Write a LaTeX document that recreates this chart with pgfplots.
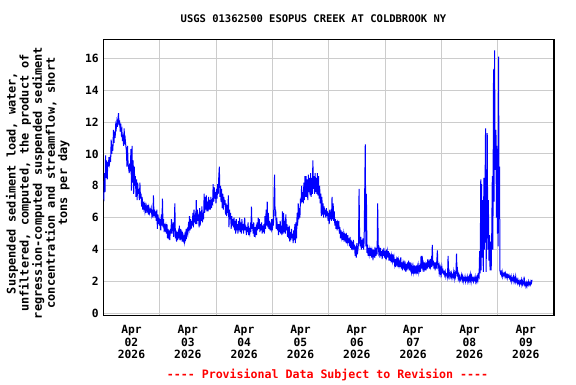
\documentclass[border=0pt]{standalone}
\usepackage{fontspec}
\setmonofont{DejaVu Sans Mono}
\usepackage{pgfplots}
\pgfplotsset{compat=1.18}
\usepackage{pgfplotstable}
\pgfplotstableread{
d v
0.000 7.3
0.010 7.2
0.020 8.8
0.030 7.6
0.040 9.9
0.050 8.5
0.060 9.6
0.070 8.4
0.080 9.5
0.090 9.2
0.100 9.8
0.110 9.4
0.120 9.7
0.130 9.5
0.140 10.9
0.150 10.0
0.160 10.6
0.170 10.2
0.180 11.5
0.190 10.7
0.200 11.4
0.210 11.0
0.220 11.8
0.230 11.6
0.240 12.0
0.250 11.7
0.260 12.2
0.270 12.55
0.280 11.8
0.290 12.1
0.300 11.4
0.310 11.9
0.320 11.3
0.330 11.5
0.340 10.8
0.350 11.2
0.360 10.5
0.370 11.6
0.380 10.6
0.390 10.9
0.400 10.5
0.410 10.2
0.420 9.2
0.430 10.5
0.440 9.4
0.450 9.1
0.460 8.8
0.470 9.4
0.480 8.9
0.490 10.3
0.500 7.7
0.510 10.5
0.520 8.2
0.530 9.6
0.540 7.5
0.550 9.2
0.560 8.0
0.570 8.6
0.580 7.3
0.590 8.4
0.600 7.1
0.610 8.2
0.620 7.5
0.630 7.8
0.640 7.1
0.650 8.2
0.660 7.2
0.670 7.5
0.680 6.7
0.690 7.3
0.700 6.5
0.710 7.0
0.720 6.6
0.730 6.8
0.740 6.4
0.750 6.7
0.760 6.3
0.770 6.7
0.780 6.5
0.790 6.8
0.800 6.2
0.810 6.6
0.820 6.3
0.830 6.5
0.840 6.4
0.850 6.6
0.860 6.2
0.870 6.5
0.880 6.0
0.890 7.4
0.900 6.1
0.910 6.5
0.920 6.0
0.930 6.4
0.940 5.8
0.950 6.5
0.960 5.3
0.970 6.2
0.980 5.6
0.990 6.0
1.000 5.5
1.010 5.9
1.020 5.2
1.030 6.2
1.040 5.5
1.050 7.2
1.060 5.4
1.070 5.9
1.080 5.1
1.090 5.6
1.100 5.3
1.110 5.5
1.120 5.0
1.130 5.6
1.140 4.7
1.150 5.3
1.160 4.9
1.170 5.2
1.180 4.6
1.190 5.3
1.200 5.0
1.210 5.9
1.220 5.0
1.230 5.4
1.240 5.7
1.250 4.8
1.260 5.5
1.270 6.9
1.280 4.7
1.290 5.2
1.300 4.5
1.310 5.1
1.320 4.6
1.330 5.0
1.340 4.7
1.350 5.5
1.360 4.6
1.370 5.3
1.380 4.8
1.390 5.0
1.400 4.5
1.410 4.9
1.420 4.6
1.430 4.8
1.440 4.5
1.450 4.9
1.460 4.7
1.470 5.3
1.480 4.9
1.490 5.2
1.500 5.0
1.510 5.5
1.520 5.3
1.530 6.1
1.540 5.2
1.550 5.9
1.560 5.3
1.570 5.8
1.580 5.5
1.590 6.3
1.600 5.4
1.610 6.5
1.620 5.7
1.630 6.0
1.640 5.6
1.650 7.1
1.660 5.6
1.670 6.5
1.680 5.8
1.690 6.2
1.700 5.4
1.710 6.6
1.720 5.5
1.730 6.4
1.740 5.8
1.750 6.7
1.760 5.7
1.770 6.3
1.780 5.9
1.790 7.5
1.800 6.3
1.810 7.3
1.820 6.5
1.830 7.4
1.840 6.4
1.850 7.0
1.860 6.4
1.870 7.3
1.880 6.5
1.890 7.1
1.900 6.5
1.910 7.3
1.920 6.6
1.930 7.0
1.940 6.9
1.950 8.1
1.960 7.0
1.970 7.9
1.980 7.2
1.990 7.6
2.000 6.9
2.010 7.8
2.020 7.2
2.030 8.1
2.040 7.5
2.050 8.6
2.060 9.2
2.070 7.3
2.080 8.0
2.090 7.0
2.100 7.8
2.110 6.6
2.120 7.5
2.130 6.5
2.140 7.3
2.150 6.8
2.160 7.1
2.170 6.2
2.180 6.9
2.190 6.1
2.200 6.8
2.210 6.3
2.220 7.4
2.230 5.4
2.240 6.5
2.250 5.9
2.260 6.3
2.270 5.3
2.280 6.1
2.290 5.5
2.300 5.9
2.310 5.4
2.320 6.0
2.330 5.2
2.340 5.8
2.350 5.0
2.360 5.9
2.370 5.2
2.380 5.6
2.390 5.0
2.400 5.8
2.410 5.2
2.420 6.0
2.430 5.1
2.440 5.7
2.450 5.0
2.460 5.9
2.470 5.2
2.480 5.6
2.490 5.0
2.500 5.6
2.510 6.0
2.520 5.2
2.530 5.5
2.540 4.9
2.550 5.4
2.560 5.1
2.570 5.7
2.580 4.9
2.590 5.2
2.600 5.0
2.610 5.4
2.620 5.1
2.630 6.7
2.640 5.3
2.650 5.6
2.660 5.0
2.670 5.7
2.680 4.8
2.690 5.4
2.700 5.0
2.710 5.3
2.720 4.9
2.730 5.7
2.740 5.2
2.750 6.0
2.760 5.3
2.770 5.9
2.780 5.1
2.790 5.6
2.800 5.2
2.810 5.7
2.820 5.0
2.830 5.5
2.840 5.1
2.850 5.6
2.860 5.0
2.870 6.1
2.880 5.3
2.890 6.5
2.900 5.5
2.910 7.0
2.920 5.4
2.930 6.3
2.940 5.3
2.950 5.8
2.960 5.2
2.970 5.5
2.980 5.3
2.990 5.9
3.000 5.2
3.010 5.7
3.020 5.5
3.030 7.3
3.040 8.7
3.050 6.1
3.060 6.5
3.070 5.3
3.080 6.0
3.090 5.2
3.100 5.6
3.110 4.9
3.120 5.6
3.130 5.1
3.140 5.8
3.150 5.0
3.160 5.5
3.170 4.9
3.180 6.4
3.190 5.0
3.200 6.3
3.210 5.1
3.220 5.8
3.230 5.0
3.240 6.2
3.250 5.2
3.260 5.6
3.270 4.8
3.280 5.4
3.290 4.7
3.300 5.5
3.310 4.5
3.320 5.1
3.330 4.6
3.340 5.3
3.350 4.7
3.360 5.0
3.370 4.4
3.380 5.2
3.390 4.6
3.400 5.6
3.410 4.4
3.420 5.7
3.430 4.7
3.440 6.3
3.450 5.5
3.460 6.9
3.470 5.9
3.480 6.6
3.490 6.0
3.500 7.2
3.510 6.9
3.520 8.0
3.530 7.0
3.540 7.6
3.550 6.9
3.560 8.2
3.570 7.1
3.580 8.6
3.590 7.3
3.600 8.6
3.610 7.3
3.620 8.4
3.630 7.1
3.640 8.7
3.650 7.6
3.660 8.5
3.670 7.4
3.680 8.8
3.690 7.3
3.700 8.5
3.710 7.5
3.720 9.6
3.730 7.8
3.740 8.6
3.750 7.5
3.760 8.8
3.770 7.6
3.780 8.5
3.790 7.5
3.800 8.8
3.810 7.4
3.820 8.6
3.830 7.2
3.840 8.0
3.850 6.9
3.860 7.5
3.870 6.1
3.880 7.3
3.890 6.2
3.900 6.9
3.910 6.0
3.920 6.7
3.930 6.2
3.940 6.5
3.950 6.0
3.960 6.6
3.970 6.1
3.980 6.4
3.990 5.8
4.000 6.3
4.010 5.6
4.020 6.5
4.030 5.9
4.040 6.2
4.050 5.8
4.060 7.3
4.070 5.9
4.080 6.9
4.090 5.8
4.100 6.4
4.110 5.5
4.120 5.9
4.130 5.3
4.140 5.8
4.150 5.2
4.160 5.6
4.170 5.3
4.180 5.8
4.190 5.0
4.200 5.4
4.210 4.7
4.220 5.2
4.230 4.8
4.240 5.1
4.250 4.6
4.260 5.0
4.270 4.7
4.280 4.9
4.290 4.5
4.300 5.0
4.310 4.4
4.320 4.8
4.330 4.5
4.340 4.9
4.350 4.4
4.360 4.7
4.370 4.2
4.380 4.8
4.390 4.1
4.400 4.6
4.410 4.0
4.420 4.5
4.430 4.2
4.440 4.6
4.450 4.0
4.460 4.3
4.470 3.6
4.480 4.2
4.490 3.5
4.500 4.4
4.510 3.7
4.520 4.0
4.530 4.4
4.540 7.8
4.550 4.6
4.560 4.2
4.570 4.8
4.580 4.0
4.590 4.6
4.600 4.1
4.610 4.7
4.620 4.0
4.630 4.5
4.640 7.6
4.650 10.6
4.660 4.2
4.670 7.5
4.680 3.8
4.690 4.3
4.700 3.6
4.710 4.1
4.720 3.7
4.730 4.0
4.740 3.6
4.750 4.1
4.760 3.5
4.770 3.9
4.780 3.6
4.790 4.0
4.800 3.6
4.810 3.9
4.820 3.5
4.830 3.9
4.840 3.6
4.850 4.1
4.860 3.7
4.870 6.9
4.880 4.3
4.890 3.8
4.900 4.0
4.910 3.5
4.920 4.1
4.930 3.6
4.940 3.9
4.950 3.4
4.960 4.0
4.970 3.6
4.980 4.1
4.990 3.5
5.000 3.9
5.010 3.4
5.020 4.0
5.030 3.6
5.040 3.9
5.050 3.5
5.060 3.9
5.070 3.3
5.080 3.8
5.090 3.3
5.100 3.7
5.110 3.2
5.120 3.6
5.130 3.3
5.140 3.7
5.150 3.2
5.160 3.5
5.170 3.1
5.180 3.4
5.190 2.9
5.200 3.3
5.210 3.0
5.220 3.5
5.230 2.9
5.240 3.3
5.250 3.0
5.260 3.2
5.270 2.9
5.280 3.5
5.290 2.8
5.300 3.2
5.310 2.7
5.320 3.1
5.330 2.8
5.340 3.3
5.350 2.7
5.360 3.0
5.370 2.6
5.380 3.1
5.390 2.7
5.400 3.2
5.410 2.8
5.420 3.3
5.430 2.7
5.440 3.2
5.450 2.8
5.460 3.0
5.470 2.6
5.480 2.9
5.490 2.5
5.500 2.9
5.510 2.6
5.520 3.0
5.530 2.5
5.540 2.8
5.550 2.6
5.560 3.0
5.570 2.5
5.580 2.9
5.590 2.6
5.600 3.0
5.610 2.7
5.620 2.9
5.630 2.6
5.640 3.6
5.650 2.8
5.660 3.6
5.670 2.9
5.680 3.1
5.690 2.6
5.700 3.2
5.710 2.7
5.720 3.0
5.730 2.7
5.740 3.2
5.750 2.8
5.760 3.4
5.770 2.9
5.780 3.3
5.790 2.8
5.800 3.4
5.810 3.0
5.820 3.3
5.830 2.9
5.840 4.3
5.850 3.0
5.860 3.3
5.870 2.8
5.880 3.2
5.890 2.7
5.900 3.2
5.910 2.8
5.920 3.3
5.930 3.95
5.940 2.9
5.950 3.0
5.960 2.6
5.970 2.9
5.980 2.5
5.990 2.8
6.000 2.5
6.010 2.9
6.020 2.6
6.030 2.7
6.040 2.5
6.050 2.6
6.060 2.4
6.070 2.6
6.080 2.3
6.090 2.5
6.100 2.5
6.110 2.3
6.120 3.6
6.130 2.4
6.140 2.6
6.150 2.3
6.160 2.5
6.170 2.3
6.180 2.5
6.190 2.2
6.200 2.4
6.210 2.3
6.220 2.6
6.230 2.2
6.240 2.5
6.250 2.3
6.260 2.6
6.270 3.75
6.280 2.3
6.290 2.6
6.300 2.2
6.310 2.4
6.320 2.1
6.330 2.3
6.340 2.1
6.350 2.2
6.360 2.4
6.370 2.1
6.380 2.3
6.390 2.0
6.400 2.2
6.410 2.1
6.420 2.3
6.430 2.0
6.440 2.2
6.450 2.1
6.460 2.3
6.470 2.0
6.480 2.2
6.490 2.0
6.500 2.3
6.510 2.1
6.520 2.4
6.530 2.0
6.540 2.3
6.550 2.1
6.560 2.2
6.570 2.0
6.580 2.2
6.590 2.1
6.600 2.3
6.610 2.0
6.620 2.2
6.630 2.0
6.640 2.3
6.650 2.1
6.660 2.4
6.670 2.3
6.680 3.9
6.690 2.5
6.700 8.4
6.705 2.7
6.715 8.1
6.725 3.5
6.735 7.1
6.745 2.6
6.755 8.5
6.765 4.0
6.775 7.3
6.785 11.6
6.795 2.6
6.805 6.0
6.815 11.3
6.825 4.0
6.835 7.1
6.845 3.3
6.855 4.9
6.865 2.7
6.875 4.5
6.885 2.7
6.895 5.0
6.905 8.6
6.915 4.0
6.927 15.3
6.935 7.0
6.945 16.5
6.955 9.0
6.970 11.5
6.978 6.0
6.988 10.5
6.995 5.0
7.005 8.6
7.010 4.2
7.016 16.1
7.025 6.0
7.034 9.2
7.040 2.7
7.050 2.5
7.060 2.6
7.070 2.4
7.080 2.6
7.090 2.3
7.100 2.5
7.110 2.4
7.120 2.5
7.130 2.3
7.140 2.5
7.150 2.3
7.160 2.4
7.170 2.2
7.180 2.4
7.190 2.3
7.200 2.4
7.210 2.2
7.220 2.3
7.230 2.1
7.240 2.3
7.250 2.0
7.260 2.2
7.270 2.1
7.280 2.3
7.290 2.0
7.300 2.2
7.310 2.0
7.320 2.3
7.330 2.0
7.340 2.1
7.350 1.9
7.360 2.1
7.370 1.9
7.380 2.0
7.390 1.8
7.400 2.0
7.410 1.9
7.420 2.1
7.430 1.8
7.440 2.0
7.450 1.8
7.460 1.9
7.470 2.3
7.480 1.8
7.490 1.9
7.500 1.7
7.510 1.9
7.520 1.7
7.530 1.9
7.540 1.8
7.550 2.0
7.560 1.8
7.570 1.9
7.580 1.8
7.590 2.0
7.600 1.9
7.610 2.1
}\sediment
\begin{document}
\begin{tikzpicture}
\useasboundingbox (0,0) rectangle (576pt,384pt);
\begin{axis}[
  at={(103.3pt,68.3pt)}, anchor=south west,
  scale only axis, width=450.7pt, height=276.4pt,
  xmin=0, xmax=8, ymin=-0.15, ymax=17.19,
  xtick={0.5,1.5,...,7.5},
  xticklabels={{Apr\\02\\2026},{Apr\\03\\2026},{Apr\\04\\2026},{Apr\\05\\2026},{Apr\\06\\2026},{Apr\\07\\2026},{Apr\\08\\2026},{Apr\\09\\2026}},
  minor xtick={1,2,...,7},
  ytick={0,2,...,16},
  xminorgrids, ymajorgrids,
  major grid style={draw=black!20, line width=0.9pt},
  minor grid style={draw=black!20, line width=0.9pt},
  major tick length=0pt, minor tick length=0pt,
  axis line style={line width=1.2pt},
  tick label style={font=\ttfamily\bfseries\fontsize{11.3}{12.5}\selectfont},
  /pgf/number format/assume math mode=true,
  xticklabel style={align=center, yshift=-6.5pt},
  yticklabel style={xshift=-1pt},
]
\addplot[draw={rgb,255:red,0;green,0;blue,255}, line width=1pt, line join=miter, mark=none] table[x=d, y=v] {\sediment};
\end{axis}
\node[font=\ttfamily\bfseries\fontsize{10.5}{12}\selectfont] at (313.5pt,365pt) {USGS 01362500 ESOPUS CREEK AT COLDBROOK NY};
\node[font=\ttfamily\bfseries\fontsize{11.9}{12.1}\selectfont, rotate=90, align=center] at (37.7pt,201pt)
  {Suspended sediment load, water,\\unfiltered, computed, the product of\\regression-computed suspended sediment\\concentration and streamflow, short\\tons per day};
\node[font=\ttfamily\bfseries\fontsize{11.6}{12}\selectfont, text={rgb,255:red,255;green,0;blue,0}] at (327.5pt,9pt) {---- Provisional Data Subject to Revision ----};
\end{tikzpicture}
\end{document}
